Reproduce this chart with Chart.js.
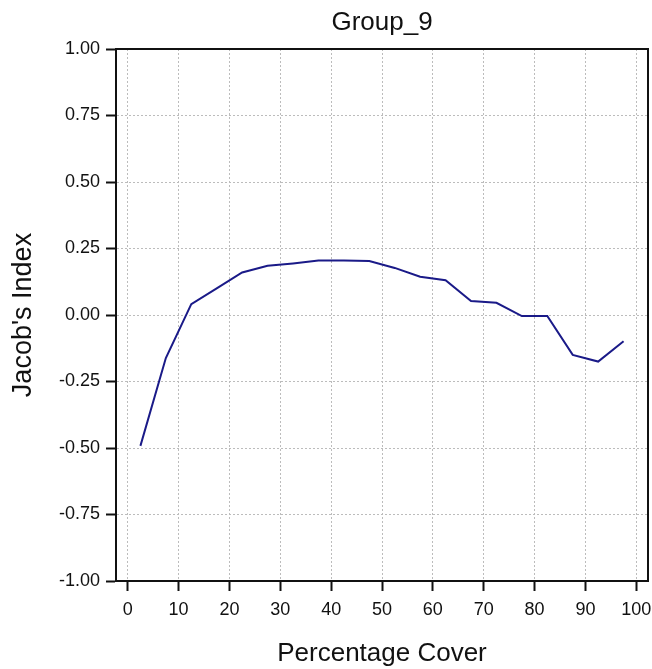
<!DOCTYPE html>
<html>
<head>
<meta charset="utf-8">
<script src="https://cdn.jsdelivr.net/npm/chart.js@4/dist/chart.umd.min.js"></script>
<style>
  html, body { margin: 0; padding: 0; background: #fff; }
  canvas { display: block; }
</style>
</head>
<body>
<canvas id="chart" width="652" height="669"></canvas>
<script>
const TITLE = "Group_9";
const X_TITLE = "Percentage Cover";
const Y_TITLE = "Jacob's Index";

// percentage cover class midpoints
const coverPct = [2.5, 7.5, 12.5, 17.5, 22.5, 27.5, 32.5, 37.5, 42.5, 47.5,
                  52.5, 57.5, 62.5, 67.5, 72.5, 77.5, 82.5, 87.5, 92.5, 97.5];
const jacobIndex = [-0.492, -0.162, 0.041, 0.100, 0.160, 0.185, 0.194, 0.205, 0.205, 0.203,
                    0.177, 0.144, 0.131, 0.053, 0.046, -0.004, -0.004, -0.150, -0.175, -0.099];

const X_MIN = -2.3, X_MAX = 102.3;
const Y_MIN = -1, Y_MAX = 1;

const FONT = "'Liberation Sans', Arial, sans-serif";
const gridGrey = "#bcbcbc";

// keep the plot box fixed, ignore label overhang
function noPad(s) {
  s.paddingLeft = 0;
  s.paddingRight = 0;
  s.paddingTop = 0;
  s.paddingBottom = 0;
}

const ctx = document.getElementById("chart").getContext("2d");
new Chart(ctx, {
  type: "line",
  data: {
    datasets: [{
      data: coverPct.map((x, i) => ({ x: x, y: jacobIndex[i] })),
      borderColor: "#1a1a88",
      borderWidth: 2,
      pointRadius: 0,
      tension: 0,
      fill: false,
    }],
  },
  options: {
    responsive: false,
    animation: false,
    layout: { padding: 0 },
    plugins: {
      legend: { display: false },
      tooltip: { enabled: false },
      title: { display: false },
    },
    scales: {
      x: {
        type: "linear",
        position: "bottom",
        min: X_MIN,
        max: X_MAX,
        afterFit: (s) => { s.height = 88; noPad(s); },
        ticks: {
          stepSize: 10,
          includeBounds: false,
          padding: 8,
          color: "#111",
          font: { family: FONT, size: 18 },
          maxRotation: 0,
        },
        grid: {
          color: gridGrey,
          lineWidth: 1,
          tickLength: 10,
          tickColor: "#111",
          tickWidth: 2,
        },
        border: { color: "#111", width: 2, dash: [2, 2] },
        title: {
          display: true,
          text: X_TITLE,
          color: "#111",
          font: { family: FONT, size: 26 },
          padding: { top: 0, bottom: 0 },
        },
      },
      xTop: {
        type: "linear",
        position: "top",
        min: X_MIN,
        max: X_MAX,
        afterFit: (s) => { s.height = 49; noPad(s); },
        ticks: { display: false },
        grid: { drawOnChartArea: false, drawTicks: false },
        border: { color: "#111", width: 2 },
        title: {
          display: true,
          text: TITLE,
          color: "#111",
          font: { family: FONT, size: 26 },
          padding: { top: 7, bottom: 0 },
        },
      },
      y: {
        type: "linear",
        position: "left",
        min: Y_MIN,
        max: Y_MAX,
        afterFit: (s) => { s.width = 116; noPad(s); },
        ticks: {
          stepSize: 0.25,
          padding: 6,
          color: "#111",
          font: { family: FONT, size: 18 },
          callback: (v) => Number(v).toFixed(2),
        },
        grid: {
          color: gridGrey,
          lineWidth: 1,
          tickLength: 10,
          tickColor: "#111",
          tickWidth: 2,
        },
        border: { color: "#111", width: 2, dash: [2, 2] },
        title: {
          display: true,
          text: Y_TITLE,
          color: "#111",
          font: { family: FONT, size: 27 },
          padding: { top: 7, bottom: 0 },
        },
      },
      yRight: {
        type: "linear",
        position: "right",
        min: Y_MIN,
        max: Y_MAX,
        afterFit: (s) => { s.width = 4; noPad(s); },
        ticks: { display: false },
        grid: { drawOnChartArea: false, drawTicks: false },
        border: { color: "#111", width: 2 },
      },
    },
  },
});
</script>
</body>
</html>
